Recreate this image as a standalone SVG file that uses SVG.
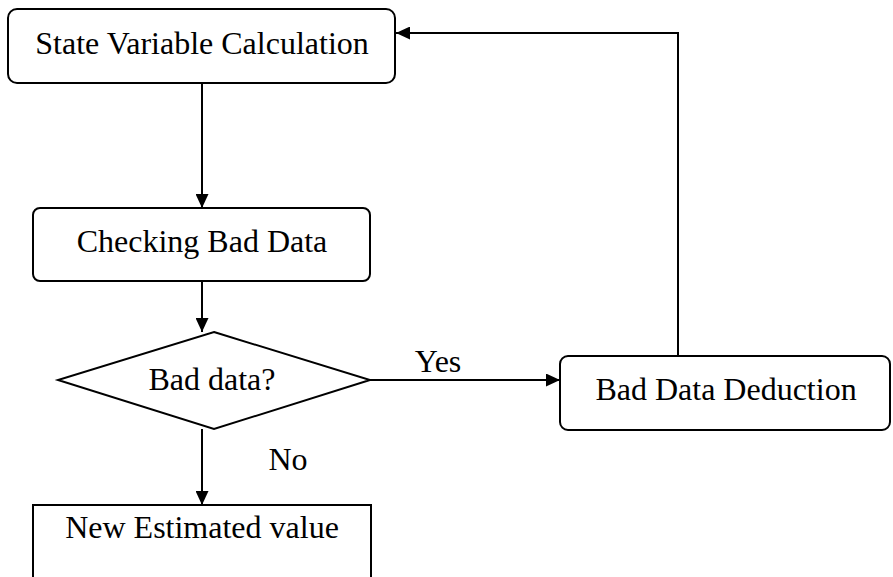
<svg xmlns="http://www.w3.org/2000/svg" width="893" height="577" viewBox="0 0 893 577">
<style>
.box{fill:#fff;stroke:#000;stroke-width:2}
.ln{fill:none;stroke:#000;stroke-width:2}
text{font-family:"Liberation Serif","Times New Roman",serif;font-size:32px;fill:#000}
.c{text-anchor:middle}
</style>
<defs>
<marker id="ah" viewBox="0 0 14 13" refX="14" refY="6.5" markerWidth="14" markerHeight="13" markerUnits="userSpaceOnUse" orient="auto">
<path d="M0,0 L14,6.5 L0,13 Z" fill="#000"/>
</marker>
</defs>
<rect width="893" height="577" fill="#fff"/>
<g id="connectors">
<line class="ln" x1="202" y1="83" x2="202" y2="208" marker-end="url(#ah)"/>
<line class="ln" x1="202" y1="281" x2="202" y2="332" marker-end="url(#ah)"/>
<line class="ln" x1="370" y1="380" x2="560" y2="380" marker-end="url(#ah)"/>
<polyline class="ln" points="678,356 678,33 396,33" marker-end="url(#ah)"/>
<line class="ln" x1="202" y1="429" x2="202" y2="505" marker-end="url(#ah)"/>
<text x="438" y="372" class="c" font-size="30">Yes</text>
<text x="288" y="470" class="c" font-size="30">No</text>
</g>
<g id="state-variable">
<rect class="box" x="8" y="9" width="387" height="74" rx="9"/>
<text x="202" y="54" class="c">State Variable Calculation</text>
</g>
<g id="checking">
<rect class="box" x="33" y="208" width="337" height="73" rx="7"/>
<text x="202" y="252" class="c">Checking Bad Data</text>
</g>
<g id="decision">
<polygon class="box" points="214,332 370,380 214,429 58,380"/>
<text x="212" y="390" class="c">Bad data?</text>
</g>
<g id="deduction">
<rect class="box" x="560" y="356" width="330" height="74" rx="8"/>
<text x="726" y="400" class="c">Bad Data Deduction</text>
</g>
<g id="new-value">
<rect class="box" x="33" y="505" width="338" height="80"/>
<text x="202" y="538" class="c">New Estimated value</text>
</g>
</svg>
